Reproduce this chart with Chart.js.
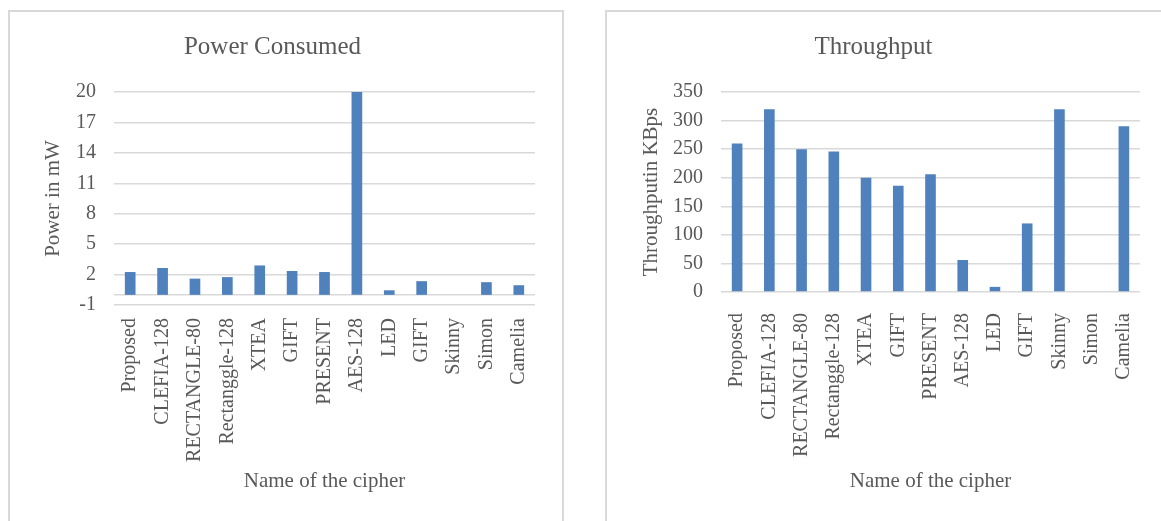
<!DOCTYPE html>
<html>
<head>
<meta charset="utf-8">
<title>Power Consumed / Throughput</title>
<script src="https://cdn.jsdelivr.net/npm/chart.js@4.4.1/dist/chart.umd.min.js"></script>
<style>
    html, body { margin: 0; padding: 0; background: #fff; overflow: hidden; }
    body { width: 1161px; height: 521px; position: relative; }
    .chart-box {
        position: absolute;
        top: 10px;
        height: 530px;
        border: 2px solid #d9d9d9;
        box-sizing: border-box;
        background: #fff;
    }
    #boxPower { left: 8px; width: 556px; }
    #boxThroughput { left: 605px; width: 566px; }
    .chart-box canvas { display: block; }
</style>
</head>
<body>
<div class="chart-box" id="boxPower"><canvas id="chartPower" width="552" height="516"></canvas></div>
<div class="chart-box" id="boxThroughput"><canvas id="chartThroughput" width="562" height="516"></canvas></div>

<script>
// cipher names (same order in both charts)
const ciphers = ['Proposed', 'CLEFIA-128', 'RECTANGLE-80', 'Rectanggle-128', 'XTEA', 'GIFT',
    'PRESENT', 'AES-128', 'LED', 'GIFT', 'Skinny', 'Simon', 'Camelia'];

// power in mW
const powerValues = [2.25, 2.65, 1.6, 1.75, 2.9, 2.35, 2.25, 20, 0.45, 1.35, 0, 1.25, 0.95];
const powerTicks = [-1, 2, 5, 8, 11, 14, 17, 20];

// throughput in KBps
const throughputValues = [260, 320, 250, 246, 200, 186, 206, 56, 9, 120, 320, 0, 290];
const throughputTicks = [0, 50, 100, 150, 200, 250, 300, 350];

(function () {
    'use strict';

    const TEXT = '#595959';
    const GRID = '#d9d9d9';
    const BAR = '#4f81bd';
    const FAMILY = '"Liberation Serif", "Times New Roman", serif';

    // horizontal line at value 0 (category axis crosses there on the power chart)
    const zeroLine = {
        id: 'zeroLine',
        beforeDatasetsDraw(chart) {
            const y = chart.scales.y.getPixelForValue(0);
            const { left, right } = chart.chartArea;
            const ctx = chart.ctx;
            ctx.save();
            ctx.strokeStyle = GRID;
            ctx.lineWidth = 1.5;
            ctx.beginPath();
            ctx.moveTo(left, y);
            ctx.lineTo(right, y);
            ctx.stroke();
            ctx.restore();
        },
    };

    function buildChart(canvasId, cfg) {
        const canvas = document.getElementById(canvasId);
        const tickList = cfg.ticks;

        return new Chart(canvas, {
            type: 'bar',
            data: {
                labels: ciphers,
                datasets: [{
                    data: cfg.values,
                    backgroundColor: BAR,
                    borderWidth: 0,
                    barPercentage: 0.33,
                    categoryPercentage: 1,
                }],
            },
            plugins: cfg.plugins || [],
            options: {
                responsive: false,
                animation: false,
                layout: { padding: { left: 0, right: cfg.padRight, top: 0, bottom: 0 } },
                plugins: {
                    legend: { display: false },
                    tooltip: { enabled: false },
                    title: {
                        display: true,
                        text: cfg.title,
                        color: TEXT,
                        font: { family: FAMILY, size: 25, weight: 'normal' },
                        padding: { top: 20, bottom: cfg.titleGap },
                    },
                },
                scales: {
                    x: {
                        grid: { display: false },
                        border: { display: false },
                        ticks: {
                            color: TEXT,
                            font: { family: FAMILY, size: 20 },
                            minRotation: 90,
                            maxRotation: 90,
                            autoSkip: false,
                            padding: cfg.xTickPad,
                        },
                        title: {
                            display: true,
                            text: 'Name of the cipher',
                            color: TEXT,
                            font: { family: FAMILY, size: 21 },
                            padding: { top: 0, bottom: 34 },
                        },
                        afterFit(scale) { scale.height = cfg.xHeight; },
                    },
                    y: {
                        min: tickList[0],
                        max: tickList[tickList.length - 1],
                        afterBuildTicks(scale) {
                            scale.ticks = tickList.map(v => ({ value: v }));
                        },
                        grid: { color: GRID, lineWidth: 1.5, drawTicks: false },
                        border: { display: false },
                        ticks: {
                            color: TEXT,
                            font: { family: FAMILY, size: 20 },
                            padding: 18,
                        },
                        title: {
                            display: true,
                            text: cfg.yTitle,
                            color: TEXT,
                            font: { family: FAMILY, size: 21 },
                            padding: { top: cfg.yTitlePad, bottom: 0 },
                        },
                        afterFit(scale) { scale.width = cfg.yWidth; },
                    },
                },
            },
        });
    }

    buildChart('chartPower', {
        title: 'Power Consumed',
        yTitle: 'Power in mW',
        values: powerValues,
        ticks: powerTicks,
        plugins: [zeroLine],
        padRight: 27,
        yWidth: 104,
        yTitlePad: 31,
        titleGap: 30,
        xHeight: 223,
        xTickPad: 5,
    });

    buildChart('chartThroughput', {
        title: 'Throughput',
        yTitle: 'Throughputin KBps',
        values: throughputValues,
        ticks: throughputTicks,
        padRight: 29,
        yWidth: 114,
        yTitlePad: 32,
        titleGap: 30,
        xHeight: 236,
        xTickPad: 13,
    });
})();
</script>
</body>
</html>
